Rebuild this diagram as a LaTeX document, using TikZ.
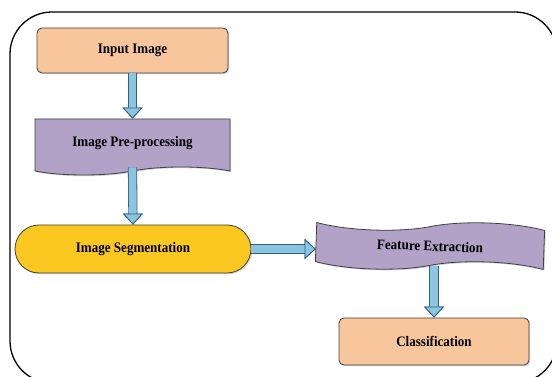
\documentclass[tikz,border=0pt]{standalone}
\usepackage{fontspec}
\setmainfont{Liberation Serif}[FakeStretch=0.9]
\usepackage{tikz}
\usetikzlibrary{shapes.misc, shapes.symbols, arrows.meta, positioning, shadows}
\definecolor{peachbox}{RGB}{248,198,156}
\definecolor{lilacbox}{RGB}{178,162,200}
\definecolor{goldbox}{RGB}{250,200,32}
\definecolor{arrowfill}{RGB}{140,198,222}
\definecolor{arrowedge}{RGB}{48,96,136}
\tikzset{
  basebox/.style={
    draw=black!75, line width=0.8pt, align=center, inner sep=2pt,
    font=\fontsize{14.5}{16}\selectfont\bfseries,
    drop shadow={opacity=0.35, shadow xshift=1.2pt, shadow yshift=-1.2pt}
  },
  termbox/.style={basebox, rectangle, rounded corners=5pt, fill=peachbox, minimum width=191pt, minimum height=45pt},
  docbox/.style={basebox, tape, tape bend top=none, tape bend bottom=in and out, tape bend height=8pt, fill=lilacbox},
  wavebox/.style={basebox, tape, tape bend top=in and out, tape bend bottom=in and out, tape bend height=11pt, fill=lilacbox},
  pillbox/.style={basebox, rounded rectangle, fill=goldbox, minimum width=240pt, minimum height=48pt},
  fatarrow/.style={line width=7.6pt, draw=arrowfill,
    preaction={draw=arrowedge, line width=9.2pt},
    -{Triangle[length=11pt, width=20pt, line width=0.8pt, fill=arrowfill, color=arrowedge]}}
}
\begin{document}
\begin{tikzpicture}[x=1pt, y=1pt]
  \clip (0,0) rectangle (552,377);
  % outer frame
  \draw[line width=1.3pt, rounded corners=42pt] (10,365) rectangle (557,-6);

  \node[termbox] (input) at (132.5,326.5) {Input Image};
  \node[docbox, minimum width=195pt, minimum height=56pt] (prep) at (132.5,234) {Image Pre-processing};
  \node[pillbox] (seg) at (133,128) {Image Segmentation};
  \node[wavebox, minimum width=228pt, minimum height=50pt, rotate=-2] (feat) at (430,131) {Feature Extraction};
  \node[termbox, minimum width=190pt, minimum height=47pt] (cls) at (434,35.5) {Classification};

  \draw[fatarrow] (input.south) -- (prep.north);
  \draw[fatarrow] (prep.south) -- (seg.north);
  \draw[fatarrow] (seg.east) -- (seg.east -| feat.west);
  \draw[fatarrow] (cls.north |- feat.south) -- (cls.north);
\end{tikzpicture}
\end{document}
